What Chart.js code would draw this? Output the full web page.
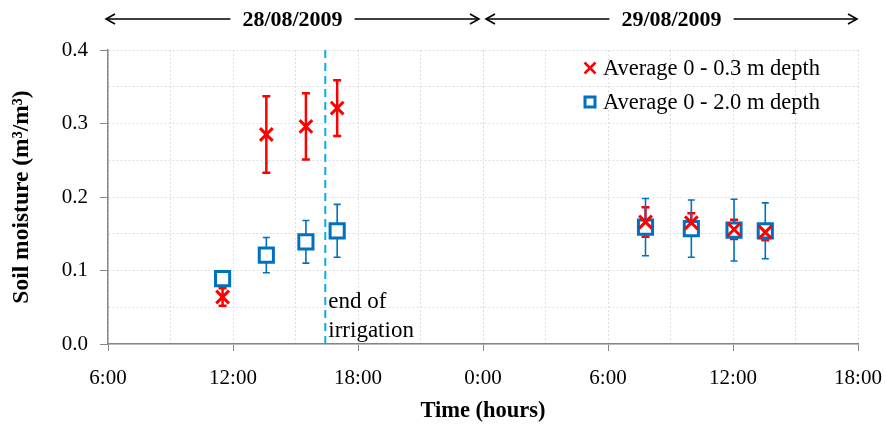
<!DOCTYPE html>
<html>
<head>
<meta charset="utf-8">
<script src="https://cdn.jsdelivr.net/npm/chart.js@4.4.0/dist/chart.umd.min.js"></script>
<style>
  html, body { margin: 0; background: #fff; }
  #wrap { width: 885px; height: 430px; }
</style>
</head>
<body>
<div id="wrap"><canvas id="chart"></canvas></div>
<script>
// hours counted from 0:00 on 28/08/2009
const hours = [11.5, 13.6, 15.5, 17.0, 31.8, 34.0, 36.05, 37.55]
const shallowMean = [0.064, 0.285, 0.296, 0.321, 0.166, 0.165, 0.156, 0.152]
const shallowErr = [0.012, 0.052, 0.045, 0.038, 0.020, 0.013, 0.013, 0.011]
const deepMean = [0.089, 0.121, 0.139, 0.154, 0.159, 0.157, 0.155, 0.154]
const deepErr = [0.008, 0.024, 0.029, 0.036, 0.039, 0.039, 0.042, 0.038]
const seriesLabels = ["Average 0 - 0.3 m depth", "Average 0 - 2.0 m depth"]
const dayLabels = ["28/08/2009", "29/08/2009"]
const dayStart = [6, 24]
const dayEnd = [24, 42]
const irrigationEnd = 16.43

const RED = "#ff0000"
const BLUE = "#0070c0"
const SERIF = "'Liberation Serif', 'DejaVu Serif', serif"

const toPoints = (ys) => hours.map((h, i) => ({ x: h, y: ys[i] }))

function arrowHead(ctx, x, y, dir) {
  ctx.beginPath()
  ctx.moveTo(x - dir * 9, y - 5)
  ctx.lineTo(x, y)
  ctx.lineTo(x - dir * 9, y + 5)
  ctx.stroke()
}

const extras = {
  id: "extras",
  beforeDatasetsDraw(chart) {
    const { ctx, scales: { x, y } } = chart
    ctx.save()
    // error bars
    const bars = [
      { mean: shallowMean, err: shallowErr, color: RED, width: 2.5, cap: 4 },
      { mean: deepMean, err: deepErr, color: BLUE, width: 1.6, cap: 3.5 }
    ]
    bars.forEach((b) => {
      ctx.strokeStyle = b.color
      ctx.lineWidth = b.width
      hours.forEach((h, i) => {
        const px = x.getPixelForValue(h)
        const top = y.getPixelForValue(b.mean[i] + b.err[i])
        const bot = y.getPixelForValue(b.mean[i] - b.err[i])
        ctx.beginPath()
        ctx.moveTo(px, top); ctx.lineTo(px, bot)
        ctx.moveTo(px - b.cap, top); ctx.lineTo(px + b.cap, top)
        ctx.moveTo(px - b.cap, bot); ctx.lineTo(px + b.cap, bot)
        ctx.stroke()
      })
    })
    // end of irrigation
    const ix = x.getPixelForValue(irrigationEnd)
    ctx.strokeStyle = "#00b0f0"
    ctx.lineWidth = 2
    ctx.setLineDash([8, 5])
    ctx.beginPath()
    ctx.moveTo(ix, chart.chartArea.top)
    ctx.lineTo(ix, chart.chartArea.bottom)
    ctx.stroke()
    ctx.setLineDash([])
    ctx.fillStyle = "#000"
    ctx.font = "23px " + SERIF
    ctx.textAlign = "left"
    ctx.textBaseline = "middle"
    ctx.fillText("end of", ix + 3, 302)
    ctx.fillText("irrigation", ix + 3, 331)
    ctx.restore()
  },
  afterDraw(chart) {
    const { ctx, scales: { x } } = chart
    ctx.save()
    // day spans across the top
    ctx.strokeStyle = "#000"
    ctx.fillStyle = "#000"
    ctx.lineWidth = 1.6
    ctx.font = "bold 22px " + SERIF
    ctx.textAlign = "center"
    ctx.textBaseline = "middle"
    const ay = 19
    dayLabels.forEach((label, i) => {
      const x0 = x.getPixelForValue(dayStart[i]) + (i === 0 ? -2 : 3)
      const x1 = x.getPixelForValue(dayEnd[i]) - (i === 0 ? 4 : 1)
      const mid = (x0 + x1) / 2
      const half = ctx.measureText(label).width / 2 + 12
      ctx.fillText(label, mid, ay + 1)
      ctx.beginPath()
      ctx.moveTo(x0, ay); ctx.lineTo(mid - half, ay)
      ctx.moveTo(mid + half, ay); ctx.lineTo(x1, ay)
      ctx.stroke()
      arrowHead(ctx, x0, ay, -1)
      arrowHead(ctx, x1, ay, 1)
    })
    // legend
    ctx.font = "22.5px " + SERIF
    ctx.textAlign = "left"
    const lx = 590
    const rows = [68, 102]
    ctx.strokeStyle = RED
    ctx.lineWidth = 2.5
    ctx.beginPath()
    ctx.moveTo(lx - 5.5, rows[0] - 5.5); ctx.lineTo(lx + 5.5, rows[0] + 5.5)
    ctx.moveTo(lx + 5.5, rows[0] - 5.5); ctx.lineTo(lx - 5.5, rows[0] + 5.5)
    ctx.stroke()
    ctx.strokeStyle = BLUE
    ctx.lineWidth = 3
    ctx.strokeRect(lx - 5, rows[1] - 5, 10, 10)
    ctx.fillStyle = "#000"
    seriesLabels.forEach((t, i) => ctx.fillText(t, lx + 13, rows[i] + 1))
    ctx.restore()
  }
}

const fmtHour = (v) => (v % 6 === 0 ? (v % 24) + ":00" : "")

new Chart(document.getElementById("chart"), {
  type: "scatter",
  data: {
    datasets: [
      {
        label: seriesLabels[0],
        data: toPoints(shallowMean),
        pointStyle: "crossRot",
        pointRadius: 9,
        pointBorderWidth: 3,
        borderColor: RED,
        backgroundColor: RED
      },
      {
        label: seriesLabels[1],
        data: toPoints(deepMean),
        pointStyle: "rect",
        pointRadius: 10,
        pointBorderWidth: 3,
        borderColor: BLUE,
        backgroundColor: "#fff"
      }
    ]
  },
  plugins: [extras],
  options: {
    responsive: true,
    maintainAspectRatio: false,
    animation: false,
    layout: { padding: { top: 50, right: 27, left: 0, bottom: 0 } },
    plugins: { legend: { display: false }, tooltip: { enabled: false } },
    scales: {
      x: {
        type: "linear",
        min: 6,
        max: 42,
        afterFit: (s) => { s.height = 86; s.paddingLeft = 0; s.paddingRight = 0 },
        ticks: {
          stepSize: 3,
          autoSkip: false,
          maxRotation: 0,
          callback: fmtHour,
          color: "#000",
          padding: 15,
          font: { family: SERIF, size: 21 }
        },
        grid: {
          color: "#dedede",
          tickLength: 7,
          tickColor: (c) => (c.tick && c.tick.value % 6 === 0 ? "#868686" : "rgba(0,0,0,0)")
        },
        border: { color: "#868686", width: 1.5, dash: [2, 2] },
        title: {
          display: true,
          text: "Time (hours)",
          color: "#000",
          font: { family: SERIF, size: 22.5, weight: "bold" },
          padding: { top: 0, bottom: 5 }
        }
      },
      y: {
        min: 0,
        max: 0.4,
        afterFit: (s) => { s.width = 108 },
        ticks: {
          stepSize: 0.05,
          callback: (v) => (Math.round(v * 100) % 10 === 0 ? v.toFixed(1) : ""),
          color: "#000",
          padding: 12,
          font: { family: SERIF, size: 21 }
        },
        grid: {
          color: "#dedede",
          tickLength: 8,
          tickColor: (c) => (c.tick && Math.round(c.tick.value * 100) % 10 === 0 ? "#868686" : "rgba(0,0,0,0)")
        },
        border: { color: "#868686", width: 1.5, dash: [2, 2] },
        title: {
          display: true,
          text: "Soil moisture (m³/m³)",
          color: "#000",
          font: { family: SERIF, size: 23.5, weight: "bold" },
          padding: { top: 8, bottom: 0 }
        }
      }
    }
  }
})
</script>
</body>
</html>
